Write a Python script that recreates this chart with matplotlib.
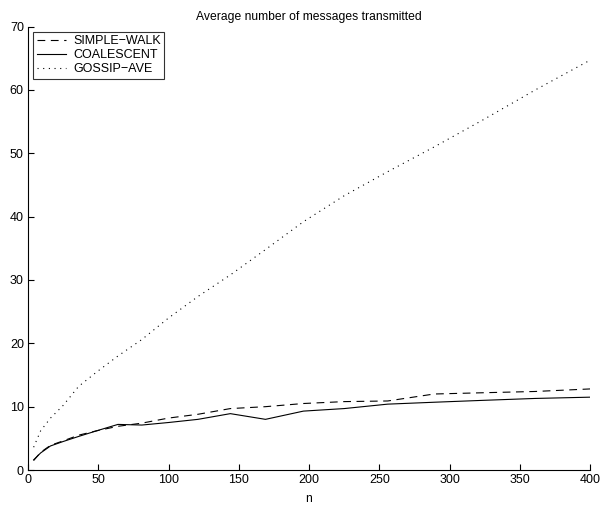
import matplotlib
matplotlib.use('Agg')
import matplotlib.pyplot as plt

plt.rcParams['font.family'] = ['Liberation Sans', 'DejaVu Sans']

n = [4, 9, 16, 25, 36, 49, 64, 81, 100, 121, 144, 169, 196, 225, 256, 289, 324, 361, 400]
simple_walk = [1.5, 2.8, 3.9, 4.6, 5.5, 6.2, 6.9, 7.4, 8.2, 8.8, 9.7, 10.0, 10.5, 10.8, 10.9, 12.0, 12.2, 12.4, 12.8]
coalescent = [1.6, 2.7, 3.8, 4.5, 5.3, 6.2, 7.2, 7.1, 7.5, 8.0, 8.9, 8.0, 9.3, 9.7, 10.4, 10.7, 11.0, 11.3, 11.5]
gossip_ave = [3.6, 6.2, 8.2, 10.2, 13.2, 15.5, 18.0, 20.6, 24.0, 27.4, 30.8, 34.8, 39.2, 43.3, 47.1, 51.0, 55.3, 60.0, 64.7]

fig = plt.figure(figsize=(6, 5.12), dpi=100)
ax = fig.add_axes([0.0467, 0.082, 0.9367, 0.866])

ax.plot(n, simple_walk, color='black', ls='--', lw=0.8, dashes=(7, 5), label='SIMPLE\u2212WALK')
ax.plot(n, coalescent, color='black', ls='-', lw=0.8, label='COALESCENT')
ax.plot(n, gossip_ave, color='black', ls=':', lw=0.8, dashes=(1, 4.1), label='GOSSIP\u2212AVE')

ax.set_xlim(0, 400)
ax.set_ylim(0, 70)
ax.set_xticks(range(0, 401, 50))
ax.set_yticks(range(0, 71, 10))
ax.tick_params(direction='in', labelsize=9, length=4, width=0.8, pad=3)
ax.spines['top'].set_visible(False)
ax.spines['right'].set_visible(False)
ax.set_title('Average number of messages transmitted', fontsize=8.7, pad=5)
ax.set_xlabel('n', fontsize=8.7, labelpad=5)

leg = ax.legend(loc='upper left', fontsize=9, fancybox=False, edgecolor='black',
                borderaxespad=0.4, handlelength=2.3, borderpad=0.3, labelspacing=0.15,
                handletextpad=0.6)
leg.get_frame().set_linewidth(0.8)

fig.savefig('out.png', dpi=100)
